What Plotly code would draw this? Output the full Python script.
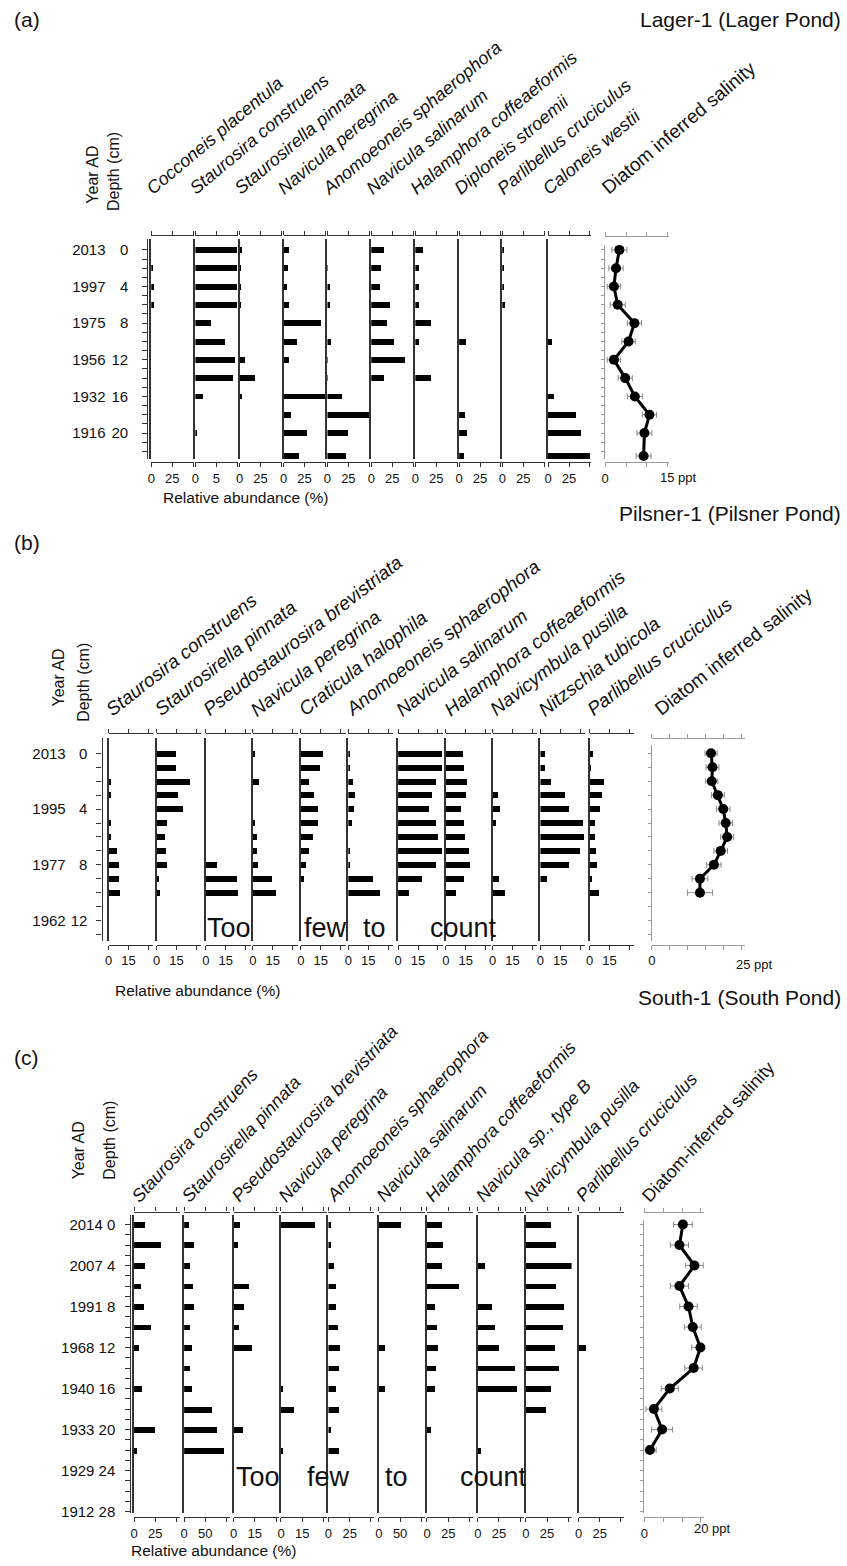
import plotly.graph_objects as go

# ===================== DATA =====================
# ---- (a) Lager-1 (Lager Pond) ----
A_year_depths = [0, 4, 8, 12, 16, 20]
A_years = ["2013", "1997", "1975", "1956", "1932", "1916"]
A_depth = [0, 2, 4, 6, 8, 10, 12, 14, 16, 18, 20, 22.5]
A_taxa = ["Cocconeis placentula", "Staurosira construens", "Staurosirella pinnata",
          "Navicula peregrina", "Anomoeoneis sphaerophora", "Navicula salinarum",
          "Halamphora coffeaeformis", "Diploneis stroemii", "Parlibellus cruciculus",
          "Caloneis westii"]
A_cocconeis_placentula = [0, 2, 3, 3, 0, 0, 0, 0, 0, 0, 0, 0]
A_staurosira_construens = [50, 50, 50, 50, 19, 36, 48, 46, 9, 0, 2, 0]
A_staurosirella_pinnata = [2.5, 1, 1, 1, 0, 0, 6, 18, 2, 0, 0, 0]
A_navicula_peregrina = [6, 5, 4, 6, 44, 16, 6, 0, 50, 8, 27, 18]
A_anomoeoneis_sphaerophora = [0, 1, 3, 3, 0, 4.5, 1, 1, 18, 50, 25, 23]
A_navicula_salinarum = [16, 12, 11, 23, 19, 28, 41, 16, 0, 0, 0, 0]
A_halamphora_coffeaeformis = [9, 5, 5, 5, 19, 5, 0, 19, 0, 0, 0, 0]
A_diploneis_stroemii = [0, 0, 0, 0, 0, 8.5, 0, 0, 0, 7.5, 10, 6]
A_parlibellus_cruciculus = [2, 2, 2, 3, 0, 0, 0, 0, 0, 0, 0, 0]
A_caloneis_westii = [0, 0, 0, 0, 0, 5, 0, 0, 7.5, 34, 39, 50]
A_tick_labels = [["0", "25", ""], ["0", "5", ""], ["0", "25", ""], ["0", "25", ""],
                 ["0", "25", ""], ["0", "25", ""], ["0", "25", ""], ["0", "25", ""],
                 ["0", "25", ""], ["0", "25", ""]]
A_salinity = [3.4, 2.6, 2.1, 3.0, 7.0, 5.6, 2.1, 4.8, 7.1, 10.6, 9.4, 9.2]
A_salinity_err = [1.8, 1.7, 1.6, 1.8, 1.7, 1.6, 1.6, 1.7, 1.8, 1.7, 1.8, 1.8]

# ---- (b) Pilsner-1 (Pilsner Pond) ----
B_year_depths = [0, 4, 8, 12]
B_years = ["2013", "1995", "1977", "1962"]
B_depth = [0, 1, 2, 3, 4, 5, 6, 7, 8, 9, 10]
B_taxa = ["Staurosira construens", "Staurosirella pinnata", "Pseudostaurosira brevistriata",
          "Navicula peregrina", "Craticula halophila", "Anomoeoneis sphaerophora",
          "Navicula salinarum", "Halamphora coffeaeformis", "Navicymbula pusilla",
          "Nitzschia tubicola", "Parlibellus cruciculus"]
B_staurosira_construens = [0, 0, 1.75, 1.2, 0, 1, 1.75, 5.75, 7.5, 7.5, 8.25]
B_staurosirella_pinnata = [14.5, 14.5, 25, 15.5, 19.5, 7.5, 5.75, 6.75, 7.5, 1.25, 2]
B_pseudostaurosira_brevistriata = [0, 0, 0, 0, 0, 0, 0, 0, 8.5, 23.5, 24]
B_navicula_peregrina = [1.2, 0, 4.5, 0, 0, 1.2, 3, 3, 4, 14.5, 17]
B_craticula_halophila = [16.25, 14.5, 5.75, 10, 13, 13, 8.75, 5.75, 4, 2, 0]
B_anomoeoneis_sphaerophora = [1.2, 1, 3.75, 5.5, 4.5, 3, 0, 1, 1.75, 18.75, 24]
B_navicula_salinarum = [33, 33, 28.5, 26, 23, 28.5, 30.5, 33, 29, 18, 8.5]
B_halamphora_coffeaeformis = [12.5, 13.25, 15.75, 15, 11.5, 13.25, 14, 17, 17.75, 13.25, 7.75]
B_navicymbula_pusilla = [0, 0, 0, 3.75, 5, 2.25, 0, 0, 0, 4.75, 9.25]
B_nitzschia_tubicola = [3.75, 3.75, 8.25, 19, 21.5, 32.5, 33.5, 30, 21.5, 5, 0]
B_parlibellus_cruciculus = [2, 0.75, 10.75, 9, 7.25, 3.75, 3.75, 4.5, 5.5, 1, 6.5]
B_tick_labels = [["0", "15", ""] for _ in range(11)]
B_salinity = [16.5, 16.9, 16.7, 18.4, 19.9, 20.6, 21.0, 19.2, 17.3, 13.4, 13.4]
B_salinity_err = [1.7, 1.8, 1.7, 1.8, 1.9, 1.9, 1.8, 1.9, 2.0, 2.2, 3.5]

# ---- (c) South-1 (South Pond) ----
C_year_depths = [0, 4, 8, 12, 16, 20, 24, 28]
C_years = ["2014", "2007", "1991", "1968", "1940", "1933", "1929", "1912"]
C_depth = [0, 2, 4, 6, 8, 10, 12, 14, 16, 18, 20, 22]
C_taxa = ["Staurosira construens", "Staurosirella pinnata", "Pseudostaurosira brevistriata",
          "Navicula peregrina", "Anomoeoneis sphaerophora", "Navicula salinarum",
          "Halamphora coffeaeformis", "Navicula sp., type B", "Navicymbula pusilla",
          "Parlibellus cruciculus"]
C_staurosira_construens = [13, 32, 13, 8, 12, 20, 6, 0, 9, 0, 25, 3.7]
C_staurosirella_pinnata = [11.5, 23, 14.6, 21, 23, 14.6, 18.5, 14.6, 18.5, 67, 78, 95]
C_pseudostaurosira_brevistriata = [4.3, 2.6, 0, 10.7, 7.1, 3.6, 12.6, 0, 0, 0, 6.3, 0]
C_navicula_peregrina = [24, 0, 0, 0, 0, 0, 0, 0, 1.7, 9.5, 0, 1.3]
C_anomoeoneis_sphaerophora = [4, 4, 7.5, 10, 10, 11.5, 14, 13.5, 10, 12.7, 3.7, 13]
C_navicula_salinarum = [52, 0, 0, 0, 0, 0, 13, 0, 13, 0, 0, 0]
C_halamphora_coffeaeformis = [17.9, 19, 17.9, 37.7, 10, 12, 13, 10.7, 9, 0, 5.3, 0]
C_navicula_sp_type_b = [0, 0, 8.7, 0, 16.7, 20, 25, 44, 46, 0, 0, 3.7]
C_navicymbula_pusilla = [29, 35, 54, 35, 45, 44, 34, 38.5, 29, 23.5, 0, 0]
C_parlibellus_cruciculus = [0, 0, 0, 0, 0, 0, 8.3, 0, 0, 0, 0, 0]
C_tick_labels = [["0", "25", ""], ["0", "50", ""], ["0", "15", ""], ["0", "15", ""],
                 ["0", "25", ""], ["0", "50", ""], ["0", "25", ""], ["0", "25", ""],
                 ["0", "25", ""], ["0", "25", ""]]
C_salinity = [13.6, 12.4, 17.7, 12.4, 15.6, 17.1, 19.8, 17.4, 9.0, 3.4, 6.3, 2.0]
C_salinity_err = [3.3, 3.2, 3.1, 3.2, 3.1, 3.0, 3.1, 3.1, 3.0, 2.8, 3.7, 2.2]

# ===================== LAYOUT HELPERS =====================
FONT = "Liberation Sans, Arial, Helvetica, sans-serif"
INK = "#111111"
AX = "#333333"
GREY = "#9a9a9a"
W, H = 847, 1566
NB = "\u00a0"


def X(p):
    return p / W


def Y(p):
    return 1 - p / H


fig = go.Figure()
axes = {}
ann = []
cnt = {"x": 0, "y": 0}


def new_ax(letter):
    cnt[letter] += 1
    n = cnt[letter]
    ref = letter if n == 1 else f"{letter}{n}"
    name = f"{letter}axis" if n == 1 else f"{letter}axis{n}"
    return ref, name


def text(x, y, s, size=16, xanchor="center", yanchor="middle", angle=0, color=INK):
    ann.append(dict(x=X(x), y=Y(y), xref="paper", yref="paper", text=s, showarrow=False,
                    font=dict(family=FONT, size=size, color=color),
                    xanchor=xanchor, yanchor=yanchor, textangle=angle))


def dummy(xref, yref, yv):
    fig.add_trace(go.Scatter(x=[0], y=[yv], xaxis=xref, yaxis=yref, mode="markers",
                             marker=dict(opacity=0, size=1), hoverinfo="skip",
                             showlegend=False))


def section(S):
    d0, k = S["d0"], S["k"]
    dmin = (S["dom_top"] - d0) / k
    dmax = (S["dom_bot"] - d0) / k
    yrange = [dmax, dmin]
    ydom = [Y(S["dom_bot"]), Y(S["dom_top"])]
    first = None
    npan = len(S["values"])
    for i in range(npan):
        z = S["zeros"][i]
        w = S["width"]
        tv = S["tickvals"][i]
        ppu = S["ppu"][i]
        xr = [0, w / ppu]
        yref, yname = new_ax("y")
        xref, xname = new_ax("x")
        xtref, xtname = new_ax("x")
        axes[yname] = dict(domain=ydom, range=yrange, anchor=xref, showline=True,
                           linecolor=AX, linewidth=1.5, ticks="", showticklabels=False,
                           showgrid=False, zeroline=False)
        axes[xname] = dict(domain=[X(z), X(z + w)], range=xr, anchor="free",
                           position=Y(S["bot_axis"]), showline=True, linecolor=AX,
                           linewidth=1.2, ticks="outside", ticklen=4, tickwidth=1.2,
                           tickcolor=AX, tickmode="array", tickvals=tv,
                           ticktext=S["ticklabels"][i],
                           tickfont=dict(family=FONT, size=13, color=INK),
                           showgrid=False, zeroline=False)
        axes[xtname] = dict(overlaying=xref, side="top", anchor="free",
                            position=Y(S["top_axis"]), range=xr, showline=True,
                            linecolor=AX, linewidth=1.2, ticks="outside", ticklen=4,
                            tickwidth=1.2, tickcolor=AX, tickmode="array", tickvals=tv,
                            showticklabels=False, showgrid=False, zeroline=False)
        fig.add_trace(go.Bar(x=S["values"][i], y=S["depth"], orientation="h",
                             xaxis=xref, yaxis=yref, width=S["bar_w"],
                             marker=dict(color="black", line=dict(width=0)),
                             showlegend=False, hoverinfo="skip"))
        dummy(xtref, yref, 0)
        if first is None:
            first = (xref, yref)
        text(z + S["lab_dx"], S["lab_y"], "<i>" + S["taxa"][i] + "</i>", size=S["lab_size"],
             xanchor="left", yanchor="bottom", angle=S["lab_angle"])

    # salinity panel
    z, w, ppu = S["sal_zero"], S["sal_width"], S["sal_ppu"]
    xr = [0, w / ppu]
    yref, yname = new_ax("y")
    xref, xname = new_ax("x")
    xtref, xtname = new_ax("x")
    axes[yname] = dict(domain=[Y(S["dom_bot"]), Y(S["sal_top"])],
                       range=[dmax, (S["sal_top"] - d0) / k], anchor=xref, showline=True,
                       linecolor=GREY, linewidth=1, ticks="outside", ticklen=3,
                       tickcolor=GREY, tickmode="linear", tick0=0, dtick=1,
                       showticklabels=False, showgrid=False, zeroline=False)
    axes[xname] = dict(domain=[X(z), X(z + w)], range=xr, anchor="free",
                       position=Y(S["bot_axis"]), showline=True, linecolor=GREY,
                       linewidth=1, ticks="outside", ticklen=4, tickcolor=GREY,
                       tickmode="array", tickvals=S["sal_ticks"],
                       ticktext=["0"] + [""] * (len(S["sal_ticks"]) - 1),
                       tickfont=dict(family=FONT, size=13, color=INK),
                       showgrid=False, zeroline=False)
    axes[xtname] = dict(overlaying=xref, side="top", anchor="free",
                        position=Y(S["sal_top_axis"]), range=xr, showline=True,
                        linecolor=GREY, linewidth=1, ticks="outside", ticklen=4,
                        tickcolor=GREY, tickmode="array", tickvals=S["sal_ticks"],
                        showticklabels=False, showgrid=False, zeroline=False)
    fig.add_trace(go.Scatter(x=S["salinity"], y=S["depth"], xaxis=xref, yaxis=yref,
                             mode="lines+markers",
                             line=dict(color="black", width=3),
                             marker=dict(color="black", size=10),
                             error_x=dict(type="data", array=S["sal_err"], color="#8a8a8a",
                                          thickness=1, width=3),
                             showlegend=False, hoverinfo="skip", cliponaxis=False))
    dummy(xtref, yref, 0)
    text(S["sal_lab_x"], S["lab_y"], S["sal_name"], size=S["sal_lab_size"],
         xanchor="left", yanchor="bottom", angle=S["lab_angle"])
    text(S["ppt_x"], S["ticklab_y"], S["ppt_text"], size=13, xanchor="left")

    # depth axis (with year labels either combined or in a separate column)
    fx, fyref = first
    dref, dname = new_ax("y")
    dvals = list(range(0, int(dmax) + 1))
    lookup = dict(zip(S["year_depths"], S["years"]))
    if S["combined"]:
        dtext = [(lookup[v] + NB + str(v)) if v in lookup else "" for v in dvals]
    else:
        dtext = [str(v) if v in lookup else "" for v in dvals]
    axes[dname] = dict(overlaying=fyref, anchor="free", position=X(S["depth_x"]),
                       side="left", range=yrange, showline=True, linecolor=AX,
                       linewidth=1.2, ticks="outside", ticklen=5, tickcolor=AX,
                       tickmode="array", tickvals=dvals, ticktext=dtext,
                       tickfont=dict(family=FONT, size=15, color=INK),
                       ticklabelstandoff=S["depth_standoff"], showgrid=False,
                       zeroline=False)
    dummy(fx, dref, 0)
    if not S["combined"]:
        yr_ref, yr_name = new_ax("y")
        axes[yr_name] = dict(overlaying=fyref, anchor="free", position=X(S["year_x"]),
                             side="left", range=yrange, showline=False, ticks="",
                             tickmode="array", tickvals=S["year_depths"],
                             ticktext=S["years"],
                             tickfont=dict(family=FONT, size=15, color=INK),
                             showgrid=False, zeroline=False)
        dummy(fx, yr_ref, 0)

    # labels
    text(S["yearAD_x"], S["yearAD_y"], "Year AD", size=16, yanchor="bottom", angle=-90)
    text(S["depthcm_x"], S["depthcm_y"], "Depth (cm)", size=16, yanchor="bottom", angle=-90)
    text(S["rel_x"], S["rel_y"], "Relative abundance (%)", size=15.5)
    text(8, S["letter_y"], S["letter"], size=21, xanchor="left")
    text(843, S["title_y"], S["title"], size=21, xanchor="right")
    for word, wx in zip(S.get("tftc_words", []), S.get("tftc_x", [])):
        text(wx, S["tftc_y"], word, size=27)


# ===================== SECTIONS =====================
section(dict(
    letter="(a)", letter_y=20, title="Lager-1 (Lager Pond)", title_y=20,
    depth=A_depth, year_depths=A_year_depths, years=A_years,
    taxa=A_taxa,
    values=[A_cocconeis_placentula, A_staurosira_construens, A_staurosirella_pinnata,
            A_navicula_peregrina, A_anomoeoneis_sphaerophora, A_navicula_salinarum,
            A_halamphora_coffeaeformis, A_diploneis_stroemii, A_parlibellus_cruciculus,
            A_caloneis_westii],
    ticklabels=A_tick_labels,
    d0=251, k=9.2, dom_top=240, dom_bot=461, top_axis=236, bot_axis=464,
    zeros=[148, 192.3, 236.7, 281, 325, 369, 413.3, 457.3, 500.7, 546.7],
    width=43, ppu=[0.84] * 10, tickvals=[[0, 25, 50]] * 10, bar_w=0.65,
    lab_dx=-12, lab_y=202, lab_size=18, lab_angle=-40,
    sal_zero=604, sal_width=64, sal_ppu=4.2, sal_ticks=[0, 5, 10, 15],
    sal_top=246, sal_top_axis=237, sal_name="Diatom inferred salinity", sal_lab_x=594,
    sal_lab_size=19,
    salinity=A_salinity, sal_err=A_salinity_err,
    ppt_x=657, ppt_text="15 ppt", ticklab_y=480,
    combined=False, depth_x=144, depth_standoff=11, year_x=102,
    yearAD_x=88, yearAD_y=207, depthcm_x=110, depthcm_y=214,
    rel_x=243, rel_y=500,
))

section(dict(
    letter="(b)", letter_y=545, title="Pilsner-1 (Pilsner Pond)", title_y=516,
    depth=B_depth, year_depths=B_year_depths, years=B_years,
    taxa=B_taxa,
    values=[B_staurosira_construens, B_staurosirella_pinnata, B_pseudostaurosira_brevistriata,
            B_navicula_peregrina, B_craticula_halophila, B_anomoeoneis_sphaerophora,
            B_navicula_salinarum, B_halamphora_coffeaeformis, B_navicymbula_pusilla,
            B_nitzschia_tubicola, B_parlibellus_cruciculus],
    ticklabels=B_tick_labels,
    d0=756.7, k=14, dom_top=741, dom_bot=945, top_axis=736, bot_axis=949,
    zeros=[105, 153.3, 202.7, 250, 298.3, 346, 396, 444, 491, 539, 588.3],
    width=45, ppu=[1.333] * 11, tickvals=[[0, 15, 30]] * 11, bar_w=0.43,
    lab_dx=-9, lab_y=726, lab_size=19, lab_angle=-38,
    sal_zero=651, sal_width=94, sal_ppu=3.6, sal_ticks=[0, 5, 10, 15, 20, 25],
    sal_top=748, sal_top_axis=741, sal_name="Diatom inferred salinity", sal_lab_x=647,
    sal_lab_size=19,
    salinity=B_salinity, sal_err=B_salinity_err,
    ppt_x=733, ppt_text="25 ppt", ticklab_y=969,
    combined=False, depth_x=98, depth_standoff=6, year_x=62,
    yearAD_x=55, yearAD_y=712, depthcm_x=80, depthcm_y=727,
    rel_x=194, rel_y=995,
    tftc_words=["Too", "few", "to", "count"], tftc_x=[226, 323, 372, 462], tftc_y=932,
))

section(dict(
    letter="(c)", letter_y=1062, title="South-1 (South Pond)", title_y=1002,
    depth=C_depth, year_depths=C_year_depths, years=C_years,
    taxa=C_taxa,
    values=[C_staurosira_construens, C_staurosirella_pinnata, C_pseudostaurosira_brevistriata,
            C_navicula_peregrina, C_anomoeoneis_sphaerophora, C_navicula_salinarum,
            C_halamphora_coffeaeformis, C_navicula_sp_type_b, C_navicymbula_pusilla,
            C_parlibellus_cruciculus],
    ticklabels=C_tick_labels,
    d0=1230, k=10.3, dom_top=1220, dom_bot=1520, top_axis=1217, bot_axis=1524,
    zeros=[130.7, 181, 230.7, 278.3, 326, 376.7, 425, 476, 524.3, 577.3],
    width=46,
    ppu=[0.852, 0.426, 1.42, 1.42, 0.852, 0.426, 0.852, 0.852, 0.852, 0.852],
    tickvals=[[0, 25, 50], [0, 50, 100], [0, 15, 30], [0, 15, 30], [0, 25, 50],
              [0, 50, 100], [0, 25, 50], [0, 25, 50], [0, 25, 50], [0, 25, 50]],
    bar_w=0.58,
    lab_dx=-9, lab_y=1214, lab_size=18, lab_angle=-47,
    sal_zero=643.3, sal_width=60, sal_ppu=2.85, sal_ticks=[0, 20 / 3, 40 / 3, 20],
    sal_top=1225, sal_top_axis=1217, sal_name="Diatom-inferred salinity", sal_lab_x=634,
    sal_lab_size=18,
    salinity=C_salinity, sal_err=C_salinity_err,
    ppt_x=691, ppt_text="20 ppt", ticklab_y=1535,
    combined=True, depth_x=127, depth_standoff=7, year_x=None,
    yearAD_x=75, yearAD_y=1187, depthcm_x=106, depthcm_y=1187,
    rel_x=210, rel_y=1557,
    tftc_words=["Too", "few", "to", "count"], tftc_x=[255, 326, 394, 492], tftc_y=1484,
))

fig.update_layout(
    width=W, height=H, autosize=False,
    margin=dict(l=0, r=0, t=0, b=0),
    paper_bgcolor="white", plot_bgcolor="rgba(0,0,0,0)",
    font=dict(family=FONT, color=INK),
    showlegend=False, bargap=0,
    annotations=ann,
    **axes,
)

fig.write_html("out.html")
